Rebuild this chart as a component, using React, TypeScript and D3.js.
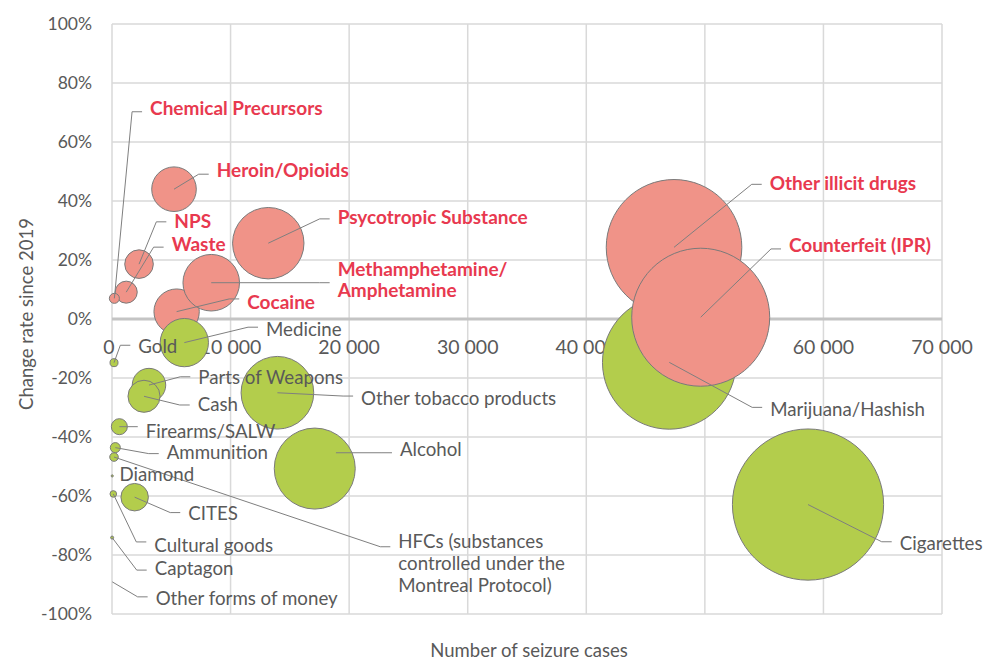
import React from "react";
import * as d3 from "d3";

// bubble data
const categories = [
  "Marijuana/Hashish",
  "Cigarettes",
  "Alcohol",
  "Other tobacco products",
  "Gold",
  "Parts of Weapons",
  "Cash",
  "Firearms/SALW",
  "Ammunition",
  "HFCs (substances controlled under the Montreal Protocol)",
  "Diamond",
  "Cultural goods",
  "CITES",
  "Captagon",
  "Other forms of money",
  "Other illicit drugs",
  "Counterfeit (IPR)",
  "Psycotropic Substance",
  "Cocaine",
  "Methamphetamine/Amphetamine",
  "Heroin/Opioids",
  "NPS",
  "Waste",
  "Chemical Precursors",
  "Medicine",
];

const seizureCases = [
  47000, 58700, 17100, 13950, 170, 3120, 2700, 620, 280, 170, 20, 110, 1910, 10, 20,
  47400, 49650, 13180, 5450, 8370, 5230, 2280, 1200, 200, 6100,
];

const changeRate = [
  -0.147, -0.629, -0.507, -0.25, -0.148, -0.224, -0.262, -0.365, -0.436, -0.468, -0.532,
  -0.593, -0.604, -0.741, -0.891, 0.243, 0.006, 0.257, 0.025, 0.123, 0.44, 0.186, 0.091,
  0.07, -0.08,
];

const bubbleSize = [
  78.1, 100, 28.7, 23.1, 0.28, 4.9, 4.5, 1.12, 0.44, 0.32, 0.02, 0.19, 3.3, 0.04, 0,
  80.4, 83.3, 22.3, 9.0, 14.0, 8.7, 3.58, 2.12, 0.44, 10.2,
];

// label text lines
const labelLines = [
  ["Marijuana/Hashish"],
  ["Cigarettes"],
  ["Alcohol"],
  ["Other tobacco products"],
  ["Gold"],
  ["Parts of Weapons"],
  ["Cash"],
  ["Firearms/SALW"],
  ["Ammunition"],
  ["HFCs (substances", "controlled under the", "Montreal Protocol)"],
  ["Diamond"],
  ["Cultural goods"],
  ["CITES"],
  ["Captagon"],
  ["Other forms of money"],
  ["Other illicit drugs"],
  ["Counterfeit (IPR)"],
  ["Psycotropic Substance"],
  ["Cocaine"],
  ["Methamphetamine/", "Amphetamine"],
  ["Heroin/Opioids"],
  ["NPS"],
  ["Waste"],
  ["Chemical Precursors"],
  ["Medicine"],
];

// label placement relative to bubble centre (px): [text dx, text dy, leader dy, leader start dx]
const labelOffsets = [
  [100.9, 46.7, 45, 0],
  [91.7, 38.8, 37.2, 0],
  [85.2, -19.5, -15.8, 21.2],
  [83.7, 5.5, 3.3, 0],
  [24.3, -16, -17.4, 0],
  [49.3, -7.7, -8.3, 0],
  [53.7, 7.7, 8.7, 0],
  [26.4, 5, 0, 0],
  [51.4, 5, 6, 0],
  [284.3, 106.7, 89.7, 0],
  [7.3, -2, null, 0],
  [41, 51, 48, 0],
  [53.6, 16, 15.4, 0],
  [42.6, 30.8, 32.5, 0],
  [43.4, 16.6, 15, 0],
  [95.7, -64, -63, 0],
  [88.3, -72.3, -68.3, 0],
  [69.4, -26, -24.3, 0],
  [70.6, -9.4, -12.7, 0],
  [126.4, -3.4, 0, 0],
  [42.7, -18.6, -15, 0],
  [35.3, -43, -42.3, 0],
  [45.4, -48.3, -45, 0],
  [35.7, -190.3, -186.6, 0],
  [81.7, -13.7, -15.4, 0],
];

const xTicks = [0, 10000, 20000, 30000, 40000, 50000, 60000, 70000];
const yTicks = [-1, -0.8, -0.6, -0.4, -0.2, 0, 0.2, 0.4, 0.6, 0.8, 1];

const FONT = "Lato, 'Open Sans', sans-serif";
const GRAY = "#595959";
const RED = "#E8394F";

export default function App() {
  const width = 986;
  const height = 660;

  const x = d3.scaleLinear().domain([0, 70000]).range([112, 942]);
  const y = d3.scaleLinear().domain([-1, 1]).range([614, 24]);
  const r = d3.scaleSqrt().domain([0, 100]).range([0, 75.6]);

  const fmtX = d3
    .formatLocale({ decimal: ".", thousands: " ", grouping: [3], currency: ["", ""] })
    .format(",");
  const fmtY = (v) => `${Math.round(v * 100)}%`;

  const data = categories.map((name, i) => ({
    name,
    cx: x(seizureCases[i]),
    cy: y(changeRate[i]),
    r: r(bubbleSize[i]),
    up: changeRate[i] >= 0,
    lines: labelLines[i],
    off: labelOffsets[i],
  }));

  const yTickFs = 17.5;
  const xTickFs = 19.5;

  return (
    <svg
      width={width}
      height={height}
      style={{ position: "absolute", left: 0, top: 0, background: "#fff" }}
      fontFamily={FONT}
    >
      {/* grid */}
      <g>
        {xTicks.map((t) => (
          <line key={"gx" + t} x1={x(t)} x2={x(t)} y1={y(1)} y2={y(-1)} stroke="#D9D9D9" strokeWidth={1.5} />
        ))}
        {yTicks.map((t) => (
          <line
            key={"gy" + t}
            x1={x(0)}
            x2={x(70000)}
            y1={y(t)}
            y2={y(t)}
            stroke={t === 0 ? "#C4C4C4" : "#D9D9D9"}
            strokeWidth={t === 0 ? 3 : 1.5}
          />
        ))}
      </g>

      {/* y tick labels */}
      {yTicks.map((t) => (
        <text key={"ty" + t} x={92} y={y(t) + 6} textAnchor="end" fontSize={yTickFs} fill={GRAY}>
          {fmtY(t)}
        </text>
      ))}

      {/* x tick labels, sitting under the 0% axis */}
      {xTicks.map((t) => (
        <text key={"tx" + t} x={x(t) - (t === 0 ? 3 : 0)} y={y(0) + 35} textAnchor="middle" fontSize={xTickFs} fill={GRAY}>
          {fmtX(t)}
        </text>
      ))}

      {/* bubbles */}
      {data.map((d) =>
        d.r > 0 ? (
          <circle
            key={"b" + d.name}
            cx={d.cx}
            cy={d.cy}
            r={d.r}
            fill={d.up ? "#F09388" : "#B3CD4C"}
            stroke="#7A7A7A"
            strokeWidth={1}
          />
        ) : null
      )}

      {/* leader lines */}
      {data.map((d) => {
        const [dx, , ly, sx] = d.off;
        if (ly === null) return null;
        const tx = d.cx + dx;
        const endX = tx - 8;
        const elbowX = endX - 10;
        const sy = sx ? d.cy + ly : d.cy;
        const path = d3.path();
        path.moveTo(d.cx + sx, sy);
        path.lineTo(elbowX, d.cy + ly);
        path.lineTo(endX, d.cy + ly);
        return <path key={"l" + d.name} d={path.toString()} fill="none" stroke="#7F7F7F" strokeWidth={1} />;
      })}

      {/* labels */}
      {data.map((d) => {
        const [dx, dy] = d.off;
        const n = d.lines.length;
        const fs = d.up ? 19 : 18.7;
        const lineH = d.up ? 21 : 22;
        const top = d.cy + dy - ((n - 1) * lineH) / 2;
        return (
          <text
            key={"t" + d.name}
            x={d.cx + dx}
            fontSize={fs}
            fontWeight={d.up ? 700 : 400}
            fill={d.up ? RED : GRAY}
          >
            {d.lines.map((s, j) => (
              <tspan key={j} x={d.cx + dx} y={top + j * lineH + fs * 0.36}>
                {s}
              </tspan>
            ))}
          </text>
        );
      })}

      {/* axis titles */}
      <text x={529} y={657} textAnchor="middle" fontSize={18.5} fill={GRAY}>
        Number of seizure cases
      </text>
      <text
        transform={`translate(33, 314) rotate(-90)`}
        textAnchor="middle"
        fontSize={18.5}
        fill={GRAY}
      >
        Change rate since 2019
      </text>
    </svg>
  );
}
